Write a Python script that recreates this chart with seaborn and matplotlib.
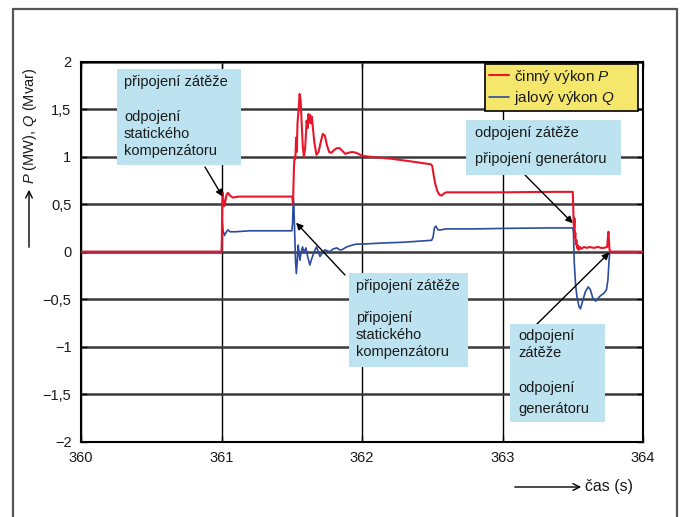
import matplotlib
matplotlib.use("Agg")
import matplotlib.pyplot as plt
import seaborn as sns
import pandas as pd
from matplotlib.patches import Rectangle, FancyArrowPatch
from matplotlib.ticker import FuncFormatter

# ---------------- data ----------------
t_P = [360.0, 361.0, 361.002, 361.004, 361.008, 361.012, 361.018, 361.025, 361.035, 361.045,
       361.06, 361.08, 361.12, 361.2, 361.3, 361.4, 361.49, 361.503, 361.508, 361.515,
       361.52, 361.525, 361.53, 361.535, 361.54, 361.548, 361.555, 361.562, 361.57, 361.578,
       361.586, 361.595, 361.605, 361.612, 361.618, 361.624, 361.63, 361.636, 361.642, 361.65,
       361.66, 361.675, 361.69, 361.705, 361.72, 361.735, 361.75, 361.765, 361.78, 361.8,
       361.82, 361.84, 361.86, 361.88, 361.9, 361.93, 361.96, 362.0, 362.05, 362.2,
       362.35, 362.49, 362.5, 362.51, 362.52, 362.535, 362.55, 362.565, 362.58, 362.6,
       362.8, 363.0, 363.2, 363.4, 363.5, 363.503, 363.506, 363.509, 363.512, 363.515,
       363.518, 363.522, 363.526, 363.53, 363.535, 363.54, 363.55, 363.56, 363.58, 363.6,
       363.62, 363.65, 363.68, 363.7, 363.72, 363.745, 363.75, 363.754, 363.758, 363.762,
       363.765, 364.0]
P = [0.0, 0.0, 0.2, 0.5, 0.62, 0.55, 0.48, 0.52, 0.6, 0.62,
     0.59, 0.57, 0.58, 0.58, 0.58, 0.58, 0.58, 0.58, 0.5, 0.9,
     1.0, 0.98, 1.2, 1.05, 1.35, 1.5, 1.66, 1.6, 1.35, 1.1,
     1.0, 1.1, 1.38, 1.3, 1.45, 1.36, 1.44, 1.35, 1.42, 1.3,
     1.15, 1.02, 1.05, 1.15, 1.24, 1.22, 1.12, 1.05, 1.04, 1.07,
     1.09, 1.09, 1.06, 1.03, 1.04, 1.05, 1.04, 1.01, 1.0, 0.98,
     0.95, 0.92, 0.9, 0.8, 0.72, 0.64, 0.6, 0.59, 0.61, 0.625,
     0.625, 0.625, 0.628, 0.63, 0.63, 0.5, 0.3, 0.25, 0.35, 0.15,
     0.2, 0.08, 0.12, 0.04, 0.07, 0.02, 0.05, 0.03, 0.05, 0.04,
     0.05, 0.04, 0.05, 0.04, 0.04, 0.05, 0.15, 0.21, 0.1, 0.02,
     0.0, 0.0]

t_Q = [360.0, 361.0, 361.002, 361.005, 361.01, 361.02, 361.03, 361.045, 361.06, 361.1,
       361.2, 361.3, 361.4, 361.5, 361.505, 361.51, 361.514, 361.52, 361.526, 361.532,
       361.538, 361.545, 361.55, 361.557, 361.566, 361.576, 361.586, 361.6, 361.612, 361.628,
       361.64, 361.652, 361.665, 361.676, 361.688, 361.7, 361.718, 361.735, 361.75, 361.77,
       361.795, 361.82, 361.84, 361.855, 361.89, 361.93, 361.96, 362.0, 362.125, 362.3,
       362.495, 362.505, 362.515, 362.525, 362.54, 362.56, 362.6, 362.8, 363.0, 363.3,
       363.5, 363.505, 363.51, 363.52, 363.53, 363.545, 363.555, 363.57, 363.59, 363.61,
       363.625, 363.645, 363.665, 363.68, 363.7, 363.72, 363.74, 363.75, 363.758, 363.764,
       364.0]
Q = [0.0, 0.0, 0.2, 0.3, 0.22, 0.17, 0.2, 0.23, 0.21, 0.21,
     0.22, 0.22, 0.22, 0.22, 0.3, 0.56, 0.5, 0.2, -0.1, -0.23,
     -0.1, 0.07, 0.0, -0.09, 0.0, 0.05, -0.01, 0.04, -0.05, -0.14,
     -0.08, -0.03, 0.02, 0.05, 0.0, -0.05, -0.01, 0.02, 0.01, 0.0,
     0.03, 0.04, 0.02, 0.02, 0.05, 0.07, 0.08, 0.08, 0.09, 0.1,
     0.12, 0.15, 0.25, 0.27, 0.23, 0.23, 0.24, 0.24, 0.245, 0.25,
     0.25, 0.2, -0.1, -0.35, -0.48, -0.58, -0.6, -0.52, -0.42, -0.37,
     -0.4, -0.5, -0.52, -0.49, -0.46, -0.44, -0.4, -0.3, -0.1, 0.0,
     0.0]

label_P = "činný výkon $P$"
label_Q = "jalový výkon $Q$"
x_ticks = [360, 361, 362, 363, 364]
y_ticks = [-2, -1.5, -1, -0.5, 0, 0.5, 1, 1.5, 2]

# ---------------- style ----------------
sns.set_style("ticks")
plt.rcParams["font.family"] = ["Liberation Sans", "DejaVu Sans"]
plt.rcParams["mathtext.fontset"] = "custom"
plt.rcParams["mathtext.it"] = "Liberation Sans:italic"
plt.rcParams["mathtext.rm"] = "Liberation Sans"
TXT = "#1a1a1a"
FS = 10.5

W, H = 684, 517
fig = plt.figure(figsize=(W / 100, H / 100), dpi=100)
fig.patch.set_facecolor("white")

def fx(x):
    return x / W

def fy(y):
    return 1 - y / H

ax_l, ax_r, ax_t, ax_b = 81.2, 643, 61.7, 441.7
ax = fig.add_axes([fx(ax_l), fy(ax_b), fx(ax_r) - fx(ax_l), fy(ax_t) - fy(ax_b)])

dfP = pd.DataFrame({"t": t_P, "v": P})
dfQ = pd.DataFrame({"t": t_Q, "v": Q})
sns.lineplot(data=dfQ, x="t", y="v", ax=ax, color="#2b4c9e", lw=1.2,
             estimator=None, label=label_Q, zorder=3)
sns.lineplot(data=dfP, x="t", y="v", ax=ax, color="#e8162a", lw=1.5,
             estimator=None, label=label_P, zorder=4)

ax.set_xlim(360, 364)
ax.set_ylim(-2, 2)
ax.set_xticks(x_ticks)
ax.set_yticks(y_ticks)

def fmt(v, pos):
    s = ("%g" % v).replace(".", ",")
    return s.replace("-", "\u2212")

ax.yaxis.set_major_formatter(FuncFormatter(fmt))
ax.xaxis.set_major_formatter(FuncFormatter(lambda v, p: "%d" % v))
ax.tick_params(direction="in", length=4, width=1, labelsize=FS, colors="black",
               labelcolor=TXT, top=True, right=True, pad=7)
ax.set_xlabel("")
ax.set_ylabel("")
ax.yaxis.grid(True, color="#3a3a3a", lw=1.8)
ax.xaxis.grid(True, color="black", lw=1.0)
ax.set_axisbelow(True)
for s in ax.spines.values():
    s.set_visible(True)
    s.set_color("black")
    s.set_linewidth(1.5)

# legend (P first), stretched to the reference box width
h, l = ax.get_legend_handles_labels()
order = [l.index(label_P), l.index(label_Q)]
lx0, ly0, lx1, ly1 = 485, 64, 638, 103
leg = ax.legend([h[i] for i in order], [l[i] for i in order], loc="upper left",
                bbox_to_anchor=(fx(lx0), fy(ly1), fx(lx1) - fx(lx0), fy(ly0) - fy(ly1)),
                bbox_transform=fig.transFigure, mode="expand",
                frameon=True, fancybox=False, edgecolor="black", facecolor="#f5e76c",
                framealpha=1, borderpad=0.25, handlelength=1.3, handletextpad=0.35,
                labelspacing=0.2, fontsize=11, borderaxespad=0)
leg.get_frame().set_linewidth(1.2)
for t in leg.get_texts():
    t.set_color(TXT)

# annotation arrows (point at data, tails in pixel coords)
arrows = [((361.007, 0.58), (205, 167)),
          ((361.53, 0.305), (345, 275)),
          ((363.50, 0.30), (525, 175)),
          ((363.76, -0.01), (535, 326))]
for xy, (px, py) in arrows:
    ax.annotate("", xy=xy, xycoords="data", xytext=(fx(px), fy(py)),
                textcoords="figure fraction",
                arrowprops=dict(arrowstyle="-|>", color="black", lw=1.0,
                                mutation_scale=10, shrinkA=0, shrinkB=0),
                zorder=6, annotation_clip=False)

# annotation boxes (pixel coords)
BOX = "#bde3f1"
boxes = [
    (117, 69, 241, 165, 124, [(82, "připojení zátěže"), (117, "odpojení"),
                              (134, "statického"), (151, "kompenzátoru")]),
    (349, 273, 468, 367, 356, [(286, "připojení zátěže"), (318, "připojení"),
                               (335, "statického"), (352, "kompenzátoru")]),
    (466, 120, 621, 175, 475, [(133, "odpojení zátěže"), (159, "připojení generátoru")]),
    (510, 324, 605, 422, 518, [(336, "odpojení"), (353, "zátěže"),
                               (388, "odpojení"), (409, "generátoru")]),
]
for x0, y0, x1, y1, tx, lines in boxes:
    fig.patches.append(Rectangle((fx(x0), fy(y1)), fx(x1) - fx(x0), fy(y0) - fy(y1),
                                 transform=fig.transFigure, facecolor=BOX,
                                 edgecolor="none", zorder=5))
    for ty, s in lines:
        fig.text(fx(tx), fy(ty), s, ha="left", va="center", fontsize=FS,
                 color=TXT, zorder=7)

# axis labels with arrows
fig.text(fx(30), fy(184), "$P$ (MW), $Q$ (Mvar)", rotation=90, ha="center",
         va="bottom", fontsize=FS, color=TXT)
fig.patches.append(FancyArrowPatch(
    (fx(29), fy(250)), (fx(29), fy(187)), transform=fig.transFigure,
    arrowstyle="->", mutation_scale=12, lw=1.0, color="black"))
fig.text(fx(585), fy(487), "čas (s)", ha="left", va="center", fontsize=11.5, color=TXT)
fig.patches.append(FancyArrowPatch(
    (fx(512), fy(487)), (fx(584), fy(487)), transform=fig.transFigure,
    arrowstyle="->", mutation_scale=12, lw=1.0, color="black"))

# outer frame
fig.patches.append(Rectangle((fx(13), -0.05), fx(677) - fx(13), fy(9) + 0.05,
                             transform=fig.transFigure, fill=False,
                             edgecolor="#555555", lw=1.6, zorder=0))

fig.savefig("out.png", dpi=100)
